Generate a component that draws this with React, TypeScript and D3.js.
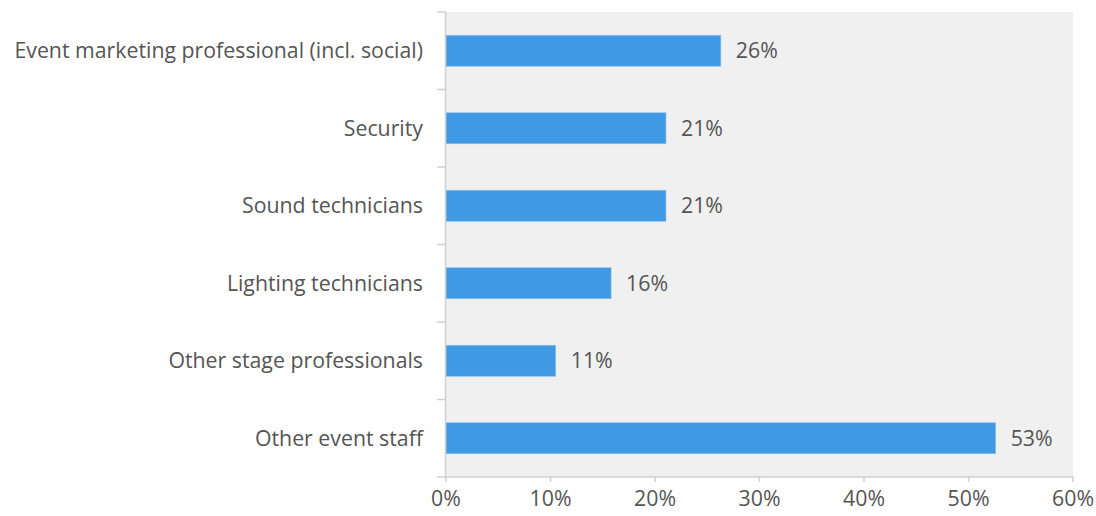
import * as d3 from 'd3'

const categories = [
  'Event marketing professional (incl. social)',
  'Security',
  'Sound technicians',
  'Lighting technicians',
  'Other stage professionals',
  'Other event staff',
]
// bar lengths; labels are rounded
const values = [26.3, 21.05, 21.05, 15.8, 10.5, 52.6]
const xTicks = [0, 10, 20, 30, 40, 50, 60]

const W = 1096
const H = 516
const margin = { top: 12, right: 23, bottom: 39, left: 446 }
const font = '"Open Sans", sans-serif'
const textColor = '#555'
const fs = 21.3

export default function App() {
  const innerW = W - margin.left - margin.right
  const innerH = H - margin.top - margin.bottom

  const x = d3.scaleLinear().domain([0, 60]).range([0, innerW])
  const y = d3.scaleBand().domain(categories).range([0, innerH]).paddingInner(0.6).paddingOuter(0.3)
  const band = d3.scaleBand().domain(categories).range([0, innerH])

  const boundaries = categories.map((c) => band(c) as number).concat([innerH])

  return (
    <svg
      width={W}
      height={H}
      style={{ position: 'absolute', left: 0, top: 0, fontFamily: font }}
    >
      <g transform={`translate(${margin.left},${margin.top})`}>
        <rect x={0} y={0} width={innerW} height={innerH} fill="#f0f0f0" />
        {categories.map((c, i) => (
          <g key={c}>
            <rect
              x={0}
              y={y(c)}
              width={x(values[i])}
              height={y.bandwidth()}
              fill="#409ae3"
              stroke="#8cc0ee"
              strokeWidth={0.6}
            />
            <text
              x={x(values[i]) + 15}
              y={(y(c) as number) + y.bandwidth() / 2}
              dy="0.35em"
              fontSize={fs}
              fill={textColor}
            >
              {Math.round(values[i])}%
            </text>
            <text
              x={-23}
              y={(y(c) as number) + y.bandwidth() / 2}
              dy="0.35em"
              fontSize={fs}
              fill={textColor}
              textAnchor="end"
            >
              {c}
            </text>
          </g>
        ))}
        <line x1={-0.5} x2={-0.5} y1={0} y2={innerH} stroke="#d0d0d0" strokeWidth={1.5} />
        {boundaries.map((b, i) => (
          <line key={i} x1={-9} x2={0} y1={b} y2={b} stroke="#d0d0d0" strokeWidth={1.5} />
        ))}
        <line x1={0} x2={innerW} y1={innerH} y2={innerH} stroke="#d0d0d0" strokeWidth={1.5} />
        {xTicks.map((t) => (
          <g key={t} transform={`translate(${x(t)},${innerH})`}>
            <line y1={0} y2={5} stroke="#d0d0d0" strokeWidth={1.5} />
            <text y={29} fontSize={fs} fill={textColor} textAnchor="middle">
              {t}%
            </text>
          </g>
        ))}
      </g>
    </svg>
  )
}
